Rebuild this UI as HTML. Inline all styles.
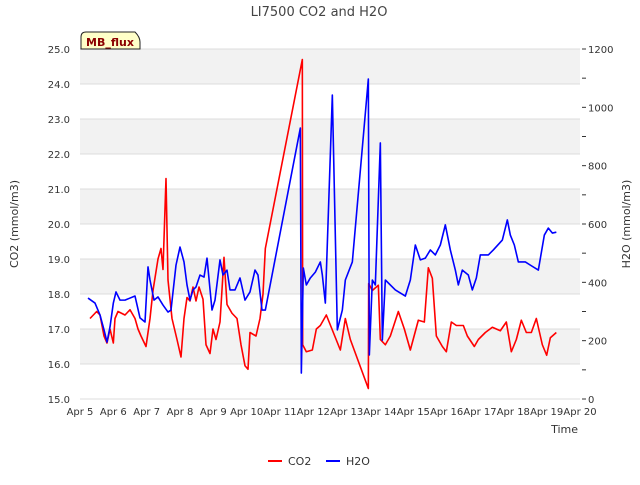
<!DOCTYPE html>
<html><head><meta charset="utf-8"><style>
body{margin:0;background:#fff;font-family:"Liberation Sans","DejaVu Sans",sans-serif}
svg text{font-family:"DejaVu Sans","Liberation Sans",sans-serif}
</style></head><body>
<svg id="chart" width="640" height="480" viewBox="0 0 640 480" xmlns="http://www.w3.org/2000/svg">
<text x="319" y="16" text-anchor="middle" font-size="13" fill="#444">LI7500 CO2 and H2O</text>
<g id="bands"></g>
<g id="axes"></g>
<g id="series"></g>
<g>
<path d="M81,49 L81,37 Q81,32 86,32 L135,32 Q140,37 140,42 L140,49 Z" fill="#ffffc8" stroke="#222" stroke-width="1"/>
<text x="110" y="46" text-anchor="middle" font-size="11" font-weight="bold" fill="#8b0000">MB_flux</text>
</g>
<text transform="translate(18,224) rotate(-90)" text-anchor="middle" font-size="11" fill="#333">CO2 (mmol/m3)</text>
<text transform="translate(630,224) rotate(-90)" text-anchor="middle" font-size="11" fill="#333">H2O (mmol/m3)</text>
<text x="578" y="433" text-anchor="end" font-size="11" fill="#333">Time</text>
<g>
<line x1="268" y1="461" x2="282" y2="461" stroke="#ff0000" stroke-width="2"/>
<text x="288" y="465" font-size="11" fill="#333">CO2</text>
<line x1="326" y1="461" x2="340" y2="461" stroke="#0000ff" stroke-width="2"/>
<text x="346" y="465" font-size="11" fill="#333">H2O</text>
</g>
</svg>
<script>
const xLabels=["Apr 5","Apr 6","Apr 7","Apr 8","Apr 9","Apr 10","Apr 11","Apr 12","Apr 13","Apr 14","Apr 15","Apr 16","Apr 17","Apr 18","Apr 19","Apr 20"];
const leftTicks=[15,16,17,18,19,20,21,22,23,24,25];
const rightTicks=[0,200,400,600,800,1000,1200];
const co2Days=[0.3,0.5,0.6,0.72,0.81,0.9,1.0,1.05,1.14,1.35,1.5,1.65,1.74,1.83,1.98,2.1,2.19,2.34,2.43,2.49,2.58,2.64,2.76,2.91,3.03,3.12,3.21,3.3,3.39,3.48,3.57,3.69,3.78,3.9,3.99,4.08,4.2,4.32,4.41,4.56,4.71,4.83,4.95,5.04,5.1,5.28,5.4,5.49,5.56,6.67,6.68,6.79,6.97,7.09,7.21,7.36,7.39,7.81,7.96,8.11,8.65,8.66,8.77,8.95,9.01,9.16,9.31,9.55,9.73,9.91,10.15,10.33,10.45,10.57,10.69,10.87,10.99,11.14,11.29,11.5,11.62,11.83,11.95,12.16,12.37,12.61,12.79,12.94,13.09,13.24,13.39,13.54,13.69,13.87,14.0,14.11,14.29];
const co2Vals=[17.3,17.5,17.4,16.8,16.6,17.0,16.6,17.3,17.5,17.4,17.55,17.3,17.0,16.8,16.5,17.3,18.1,19.0,19.3,18.7,21.3,18.4,17.3,16.7,16.2,17.3,17.9,17.8,18.2,17.8,18.2,17.85,16.55,16.3,17.0,16.7,17.2,19.05,17.7,17.45,17.3,16.55,15.95,15.85,16.9,16.8,17.3,18.0,19.3,24.7,16.55,16.35,16.4,17.0,17.1,17.35,17.4,16.4,17.3,16.7,15.3,18.3,18.1,18.25,16.7,16.55,16.8,17.5,17.0,16.4,17.25,17.2,18.75,18.45,16.8,16.5,16.35,17.2,17.1,17.1,16.8,16.5,16.7,16.9,17.05,16.95,17.2,16.35,16.7,17.25,16.9,16.9,17.3,16.55,16.25,16.75,16.9];
const h2oDays=[0.24,0.45,0.6,0.72,0.81,0.9,1.0,1.08,1.2,1.35,1.65,1.8,1.95,2.04,2.1,2.22,2.34,2.49,2.64,2.73,2.88,3.0,3.12,3.21,3.3,3.39,3.48,3.6,3.72,3.81,3.96,4.05,4.2,4.29,4.41,4.5,4.65,4.8,4.95,5.1,5.25,5.34,5.46,5.56,6.61,6.64,6.7,6.79,6.91,7.06,7.21,7.27,7.36,7.57,7.72,7.87,7.96,8.17,8.65,8.68,8.77,8.86,9.01,9.07,9.16,9.46,9.76,9.91,10.06,10.21,10.36,10.51,10.66,10.81,10.96,11.11,11.26,11.35,11.47,11.65,11.77,11.89,12.01,12.25,12.4,12.67,12.82,12.91,13.03,13.15,13.36,13.51,13.75,13.93,14.05,14.17,14.29];
const h2oVals=[346,329,288,237,195,247,329,367,339,339,353,278,264,453,408,339,350,322,298,305,459,521,470,391,339,374,384,425,418,483,305,339,477,425,442,374,374,415,339,367,442,425,305,305,929,89,449,391,415,435,470,425,329,1042,237,305,408,470,1097,151,408,391,878,202,408,374,353,408,528,477,483,511,494,528,597,511,442,391,442,425,374,415,494,494,511,545,614,562,528,470,470,459,442,562,586,569,572];
const NS="http://www.w3.org/2000/svg";
const L=80,R=580,T=49,B=399;
const xS=d=>L+d*(R-L)/15;
const yL=v=>B-(v-15)*(B-T)/10;
const yR=v=>B-v*(B-T)/1200;
function mk(tag,attrs,parent){const e=document.createElementNS(NS,tag);for(const k in attrs)e.setAttribute(k,attrs[k]);parent.appendChild(e);return e;}
const bands=document.getElementById('bands'),axes=document.getElementById('axes'),series=document.getElementById('series');
mk('rect',{x:L,y:T,width:R-L,height:B-T,fill:'#fff'},bands);
for(let v=16;v<25;v+=2){const r=mk('rect',{x:L,y:yL(v+1),width:R-L,height:yL(v)-yL(v+1),fill:'#f2f2f2'},bands);

}
leftTicks.forEach(v=>{const g=mk('line',{x1:L,x2:R,y1:yL(v),y2:yL(v),stroke:'#dcdcdc','stroke-width':1},bands);


const t=mk('text',{x:L-10,y:yL(v)+4,'text-anchor':'end','font-size':10,fill:'#333'},axes);t.textContent=v.toFixed(1);

});
for(let v=0;v<=1200;v+=100){mk('line',{x1:R+2,x2:R+6,y1:yR(v),y2:yR(v),stroke:'#333','stroke-width':1},axes);}
rightTicks.forEach(v=>{const t=mk('text',{x:R+8,y:yR(v)+4,'font-size':10,fill:'#333'},axes);t.textContent=v;

});
xLabels.forEach((s,i)=>{const t=mk('text',{x:xS(i),y:415,'text-anchor':'middle','font-size':10,fill:'#333'},axes);t.textContent=s;

});
const pc=mk('polyline',{points:co2Days.map((d,i)=>xS(d)+','+yL(co2Vals[i])).join(' '),fill:'none',stroke:'#ff0000','stroke-width':1.6,'stroke-linejoin':'round'},series);


const ph=mk('polyline',{points:h2oDays.map((d,i)=>xS(d)+','+yR(h2oVals[i])).join(' '),fill:'none',stroke:'#0000ff','stroke-width':1.6,'stroke-linejoin':'round'},series);


</script>
</body></html>
